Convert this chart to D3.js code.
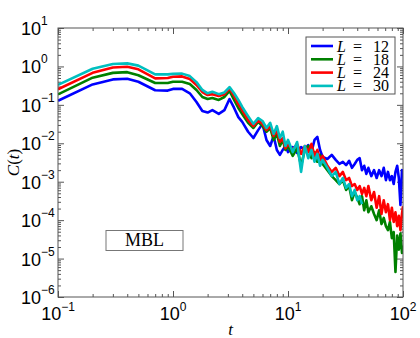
<!DOCTYPE html>
<html>
<head>
  <meta charset="UTF-8">
  <title>MBL correlation</title>
  <style>
    body { margin: 0; background: #fff; }
    svg { display: block; }
    .ticks line { stroke: #555; }
    .ticks path { display: none; }
  </style>
</head>
<body>
  <div id="chart"></div>
  <script src="https://cdn.jsdelivr.net/npm/d3@7"></script>
  <script>
    // time grid shared by all curves
    var times = [0.1, 0.2, 0.3, 0.4, 0.5, 0.7, 0.9, 1.0, 1.2, 1.4, 1.6, 1.8, 2.0, 2.2, 2.5, 2.8, 3.1, 3.4, 3.7,
      4.0, 4.5, 5, 5.5, 6, 6.5, 7, 7.5, 8, 8.5, 9, 9.5, 10, 11, 12, 13, 14, 15, 16, 17, 18, 19, 20,
      22, 24, 26, 28, 30, 32, 34, 36, 38, 40, 42, 44, 46, 48, 50,
      53, 56, 59, 62, 65, 68, 71, 74, 77, 80, 83, 86, 89, 92, 95, 98, 100];

    var cL12 = [0.128, 0.34, 0.46, 0.48, 0.40, 0.24, 0.235, 0.26, 0.26, 0.20, 0.119, 0.069, 0.063, 0.073, 0.058, 0.073, 0.142, 0.083, 0.048,
      0.036, 0.020, 0.0137, 0.022, 0.032, 0.0122, 0.0085, 0.0155, 0.0067, 0.005, 0.0067, 0.0085, 0.0059, 0.0080, 0.0056, 0.0080, 0.0067, 0.009, 0.0059, 0.0122, 0.0146, 0.0067, 0.0044,
      0.0039, 0.0050, 0.0037, 0.0029, 0.0033, 0.0027, 0.0035, 0.0023, 0.0029, 0.0037, 0.0041, 0.0020, 0.0026, 0.0016, 0.0023,
      0.0014, 0.0020, 0.00125, 0.0020, 0.0014, 0.0023, 0.0011, 0.0018, 0.0011, 0.0014, 0.00087, 0.0018, 0.0026, 0.00125, 0.00025, 0.0020, 0.0014];

    var cL18 = [0.188, 0.51, 0.68, 0.71, 0.59, 0.37, 0.37, 0.40, 0.40, 0.35, 0.244, 0.160, 0.142, 0.151, 0.134, 0.160, 0.23, 0.134, 0.083,
      0.058, 0.034, 0.025, 0.036, 0.028, 0.020, 0.025, 0.0122, 0.0175, 0.0085, 0.0122, 0.0067, 0.0085, 0.0047, 0.0075, 0.0026, 0.0067, 0.0085, 0.0041, 0.0059, 0.0033, 0.0050, 0.0029,
      0.0020, 0.0014, 0.0011, 0.00087, 0.0011, 0.00061, 0.00077, 0.00033, 0.00054, 0.00038, 0.00026, 0.00042, 0.00018, 0.00033, 0.00016,
      0.00023, 0.000145, 0.0001, 0.00018, 0.000079, 0.000114, 0.00007, 0.000055, 0.00009, 0.000034, 0.000049, 0.0000045, 0.00004, 0.000017, 0.000045, 0.000014, 0.000022];

    var cL24 = [0.254, 0.68, 0.94, 0.98, 0.84, 0.49, 0.50, 0.54, 0.55, 0.47, 0.33, 0.216, 0.18, 0.19, 0.17, 0.19, 0.27, 0.17, 0.105,
      0.073, 0.040, 0.028, 0.040, 0.032, 0.022, 0.028, 0.0155, 0.022, 0.0108, 0.0137, 0.0075, 0.0096, 0.0067, 0.0096, 0.0053, 0.0085, 0.0059, 0.0096, 0.0047, 0.0067, 0.0037, 0.0047,
      0.0026, 0.0018, 0.0023, 0.0014, 0.0018, 0.0011, 0.00125, 0.00077, 0.00087, 0.00061, 0.00077, 0.00048, 0.00069, 0.00042, 0.00077,
      0.00033, 0.00054, 0.00021, 0.00042, 0.000145, 0.00033, 0.00016, 0.00026, 0.0001, 0.00021, 0.00009, 0.00016, 0.00007, 0.00013, 0.000055, 0.000145, 0.00023];

    // L=30 only runs up to t=44
    var cL30 = [0.33, 0.87, 1.16, 1.20, 1.05, 0.62, 0.62, 0.64, 0.65, 0.56, 0.39, 0.244, 0.20, 0.22, 0.19, 0.21, 0.29, 0.20, 0.134,
      0.088, 0.051, 0.032, 0.045, 0.038, 0.025, 0.034, 0.0175, 0.028, 0.0137, 0.020, 0.0085, 0.0122, 0.0059, 0.0108, 0.0018, 0.0085, 0.0041, 0.0067, 0.0033, 0.0053, 0.0026, 0.0037,
      0.0023, 0.0014, 0.0018, 0.00087, 0.00125, 0.00069, 0.00087, 0.00042, 0.00061, 0.00033, 0.00042, 0.00026];

    var sizes = [12, 18, 24, 30];
    var colors = ["#0000ff", "#008000", "#ff0000", "#00bfbf"];
    var xDecades = [-1, 0, 1, 2];
    var yDecades = [-6, -5, -4, -3, -2, -1, 0, 1];

    var series = [cL12, cL18, cL24, cL30].map(function (vals, i) {
      return {
        L: sizes[i],
        color: colors[i],
        points: vals.map(function (v, j) { return { t: times[j], c: v }; })
      };
    });

    var width = 420, height = 338;
    var padL = 58, padR = 403, padT = 28, padB = 297;

    var svg = d3.select('#chart')
      .append('svg')
      .attr('width', width)
      .attr('height', height);

    var x = d3.scaleLog().domain([0.1, 100]).range([padL, padR]);
    var y = d3.scaleLog().domain([1e-6, 10]).range([padB, padT]);

    function minors(decs) {
      var out = [];
      decs.slice(0, -1).forEach(function (d) {
        for (var k = 2; k <= 9; k++) out.push(k * Math.pow(10, d));
      });
      return out;
    }
    var xMajor = xDecades.map(function (d) { return Math.pow(10, d); });
    var yMajor = yDecades.map(function (d) { return Math.pow(10, d); });

    // ticks, all pointing inward
    function addAxis(axis, tr) {
      svg.append('g').attr('class', 'ticks').attr('transform', tr).call(axis);
    }
    addAxis(d3.axisBottom(x).tickValues(minors(xDecades)).tickSize(-3).tickFormat(''), 'translate(0,' + padB + ')');
    addAxis(d3.axisBottom(x).tickValues(xMajor).tickSize(-6).tickFormat(''), 'translate(0,' + padB + ')');
    addAxis(d3.axisTop(x).tickValues(minors(xDecades)).tickSize(-3).tickFormat(''), 'translate(0,' + padT + ')');
    addAxis(d3.axisTop(x).tickValues(xMajor).tickSize(-6).tickFormat(''), 'translate(0,' + padT + ')');
    addAxis(d3.axisLeft(y).tickValues(minors(yDecades)).tickSize(-3).tickFormat(''), 'translate(' + padL + ',0)');
    addAxis(d3.axisLeft(y).tickValues(yMajor).tickSize(-6).tickFormat(''), 'translate(' + padL + ',0)');
    addAxis(d3.axisRight(y).tickValues(minors(yDecades)).tickSize(-3).tickFormat(''), 'translate(' + padR + ',0)');
    addAxis(d3.axisRight(y).tickValues(yMajor).tickSize(-6).tickFormat(''), 'translate(' + padR + ',0)');

    svg.append('clipPath').attr('id', 'plotclip')
      .append('rect')
      .attr('x', padL).attr('y', padT)
      .attr('width', padR - padL).attr('height', padB - padT);

    var line = d3.line()
      .x(function (d) { return x(d.t); })
      .y(function (d) { return y(d.c); });

    svg.append('g').attr('clip-path', 'url(#plotclip)')
      .selectAll('path')
      .data(series)
      .enter()
      .append('path')
      .attr('d', function (d) { return line(d.points); })
      .attr('fill', 'none')
      .attr('stroke', function (d) { return d.color; })
      .attr('stroke-width', 2.6)
      .attr('stroke-linejoin', 'round');

    // frame
    svg.append('rect')
      .attr('x', padL).attr('y', padT)
      .attr('width', padR - padL).attr('height', padB - padT)
      .attr('fill', 'none')
      .attr('stroke', '#555')
      .attr('stroke-width', 1);

    var labelFont = '"Liberation Sans", Arial, Helvetica, sans-serif';

    // y tick labels 10^n
    yDecades.forEach(function (d) {
      var yy = y(Math.pow(10, d));
      var t = svg.append('text')
        .attr('x', 21)
        .attr('y', yy + 7)
        .attr('font-family', labelFont)
        .attr('font-size', 18)
        .attr('fill', '#000');
      t.append('tspan').text('10');
      t.append('tspan').attr('dy', -10).attr('font-size', 12).text(d < 0 ? '\u2212' + (-d) : d);
    });

    // x tick labels 10^n
    xDecades.forEach(function (d) {
      var xx = x(Math.pow(10, d));
      var t = svg.append('text')
        .attr('x', xx)
        .attr('y', 320)
        .attr('text-anchor', 'middle')
        .attr('font-family', labelFont)
        .attr('font-size', 18)
        .attr('fill', '#000');
      t.append('tspan').text('10');
      t.append('tspan').attr('dy', -9).attr('font-size', 12).text(d < 0 ? '\u2212' + (-d) : d);
    });

    var mathFont = '"Liberation Serif", "DejaVu Serif", serif';

    svg.append('text')
      .attr('x', (padL + padR) / 2)
      .attr('y', 335)
      .attr('text-anchor', 'middle')
      .attr('font-family', mathFont)
      .attr('font-style', 'italic')
      .attr('font-size', 17)
      .text('t');

    var yl = svg.append('text')
      .attr('transform', 'translate(19,' + ((padT + padB) / 2) + ') rotate(-90)')
      .attr('text-anchor', 'middle')
      .attr('font-family', mathFont)
      .attr('font-size', 17);
    yl.append('tspan').attr('font-style', 'italic').text('C');
    yl.append('tspan').text('(');
    yl.append('tspan').attr('font-style', 'italic').text('t');
    yl.append('tspan').text(')');

    // legend
    var lg = svg.append('g');
    lg.append('rect')
      .attr('x', 306).attr('y', 37)
      .attr('width', 89).attr('height', 57)
      .attr('fill', '#fff')
      .attr('stroke', '#555')
      .attr('stroke-width', 1);

    series.forEach(function (s, i) {
      var ly = 46 + i * 13.3;
      lg.append('line')
        .attr('x1', 311).attr('x2', 333)
        .attr('y1', ly).attr('y2', ly)
        .attr('stroke', s.color)
        .attr('stroke-width', 2.6);
      var t = lg.append('text')
        .attr('y', ly + 5.5)
        .attr('font-family', mathFont)
        .attr('font-size', 16);
      t.append('tspan').attr('x', 337).attr('font-style', 'italic').text('L');
      t.append('tspan').attr('x', 353).text('=');
      t.append('tspan').attr('x', 373).text(s.L);
    });

    // MBL label
    svg.append('rect')
      .attr('x', 106).attr('y', 230.5)
      .attr('width', 77).attr('height', 20)
      .attr('fill', '#fff')
      .attr('stroke', '#777')
      .attr('stroke-width', 1);
    svg.append('text')
      .attr('x', 144.5)
      .attr('y', 246)
      .attr('text-anchor', 'middle')
      .attr('font-family', mathFont)
      .attr('font-size', 18)
      .text('MBL');
  </script>
</body>
</html>
